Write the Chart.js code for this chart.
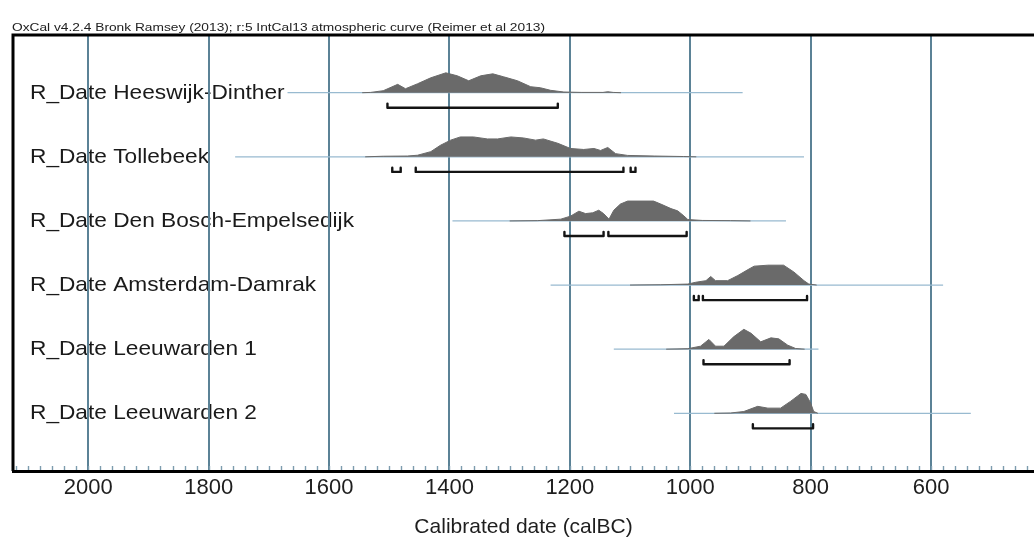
<!DOCTYPE html>
<html>
<head>
<meta charset="utf-8">
<script src="https://cdn.jsdelivr.net/npm/chart.js@4.4.1/dist/chart.umd.min.js"></script>
<style>
  html, body { margin: 0; padding: 0; background: #ffffff; }
  #wrap { width: 1034px; height: 541px; }
</style>
</head>
<body>
<div id="wrap"><canvas id="c" width="1034" height="541"></canvas></div>
<script>
// ---- data -------------------------------------------------------------
const captionText = 'OxCal v4.2.4 Bronk Ramsey (2013); r:5 IntCal13 atmospheric curve (Reimer et al 2013)';
const axisTitle = 'Calibrated date (calBC)';
const tickYears = [2000, 1800, 1600, 1400, 1200, 1000, 800, 600];

const rowNames = [
  'R_Date Heeswijk-Dinther',
  'R_Date Tollebeek',
  'R_Date Den Bosch-Empelsedijk',
  'R_Date Amsterdam-Damrak',
  'R_Date Leeuwarden 1',
  'R_Date Leeuwarden 2'
];

// extent of each distribution's base line (calBC)
const spanLines = [[1669, 913], [1756, 811], [1395, 841], [1232, 580], [1127, 787], [1027, 534]];

// calibrated probability (relative to each row's maximum)
const heeswijkYears = [1545, 1531, 1510, 1486, 1473, 1453, 1431, 1406, 1387, 1368, 1348, 1328, 1310, 1287, 1265, 1249, 1232, 1210, 1180, 1145, 1137, 1128, 1115];
const heeswijkProb  = [0, 0.015, 0.1, 0.42, 0.2, 0.45, 0.75, 1.0, 0.85, 0.6, 0.85, 0.95, 0.8, 0.6, 0.3, 0.25, 0.12, 0.035, 0.015, 0.015, 0.05, 0.015, 0];

const tollebeekYears = [1540, 1510, 1470, 1453, 1431, 1415, 1398, 1382, 1360, 1337, 1320, 1298, 1277, 1257, 1244, 1220, 1199, 1177, 1160, 1149, 1137, 1124, 1104, 1060, 1011, 990];
const tollebeekProb  = [0, 0.03, 0.04, 0.08, 0.26, 0.58, 0.84, 1.0, 1.0, 0.9, 0.9, 1.0, 0.95, 0.84, 0.9, 0.68, 0.42, 0.37, 0.42, 0.32, 0.47, 0.16, 0.07, 0.04, 0.015, 0];

const denBoschYears = [1300, 1254, 1215, 1199, 1185, 1174, 1162, 1152, 1144, 1135, 1127, 1116, 1104, 1061, 1049, 1032, 1021, 1012, 1004, 980, 933, 900];
const denBoschProb  = [0, 0.015, 0.09, 0.24, 0.49, 0.37, 0.41, 0.54, 0.37, 0.09, 0.54, 0.85, 1.0, 1.0, 0.85, 0.62, 0.51, 0.29, 0.07, 0.025, 0.015, 0];

const damrakYears = [1100, 1049, 1004, 991, 974, 966, 958, 938, 921, 904, 894, 871, 845, 828, 811, 803, 790];
const damrakProb  = [0, 0.015, 0.05, 0.14, 0.22, 0.43, 0.22, 0.22, 0.48, 0.78, 0.95, 1.0, 1.0, 0.66, 0.22, 0.05, 0];

const leeuwarden1Years = [1040, 1004, 983, 969, 958, 944, 928, 911, 899, 883, 866, 853, 838, 825, 810];
const leeuwarden1Prob  = [0, 0.025, 0.15, 0.49, 0.15, 0.15, 0.62, 1.0, 0.8, 0.37, 0.57, 0.52, 0.2, 0.035, 0];

const leeuwarden2Years = [960, 933, 911, 888, 871, 850, 833, 816, 808, 800, 795, 788];
const leeuwarden2Prob  = [0, 0.015, 0.09, 0.35, 0.26, 0.26, 0.61, 1.0, 0.95, 0.52, 0.09, 0];

// 95.4% highest posterior density ranges (calBC)
const heeswijkRanges    = [[1503, 1220]];
const tollebeekRanges   = [[1495, 1481], [1456, 1111], [1099, 1091]];
const denBoschRanges    = [[1209, 1144], [1136, 1006]];
const damrakRanges      = [[994, 986], [979, 806]];
const leeuwarden1Ranges = [[978, 835]];
const leeuwarden2Ranges = [[896, 796]];

// ---- assembly ---------------------------------------------------------
const probYears = [heeswijkYears, tollebeekYears, denBoschYears, damrakYears, leeuwarden1Years, leeuwarden2Years];
const probValues = [heeswijkProb, tollebeekProb, denBoschProb, damrakProb, leeuwarden1Prob, leeuwarden2Prob];
const rangeSets = [heeswijkRanges, tollebeekRanges, denBoschRanges, damrakRanges, leeuwarden1Ranges, leeuwarden2Ranges];

const PEAK = 0.31;       // height of a distribution peak, in row units
const BAR_DROP = 0.235;  // range bar distance below the base line
const HOOK = 0.065;      // height of the end hooks on range bars

const FONT = '"Liberation Sans", Arial, Helvetica, sans-serif';
const GRID = '#5b8296';

const datasets = [];
rowNames.forEach((name, i) => {
  const row = i + 1;
  datasets.push({
    label: name + ' base',
    data: spanLines[i].map(x => ({ x, y: row })),
    borderColor: '#98bad0',
    borderWidth: 1.2,
    pointRadius: 0,
    fill: false,
    order: 3
  });
  datasets.push({
    label: name,
    data: probYears[i].map((x, k) => ({ x, y: row - probValues[i][k] * PEAK })),
    borderColor: '#6a6a6a',
    backgroundColor: '#6a6a6a',
    borderWidth: 1,
    pointRadius: 0,
    fill: { value: row },
    order: 2
  });
  rangeSets[i].forEach(([from, to]) => {
    const yb = row + BAR_DROP;
    datasets.push({
      label: name + ' range',
      data: [
        { x: from, y: yb - HOOK }, { x: from, y: yb },
        { x: to, y: yb }, { x: to, y: yb - HOOK }
      ],
      borderColor: '#141414',
      borderWidth: 2.4,
      pointRadius: 0,
      fill: false,
      borderJoinStyle: 'round',
      borderCapStyle: 'round',
      order: 1
    });
  });
});

// row names, frame, minor ticks and the caption line
const decorations = {
  id: 'oxcalDecor',
  beforeDraw(chart) {
    const { ctx, scales: { y } } = chart;
    const left = chart.chartArea.left;
    ctx.save();
    ctx.fillStyle = '#1a1a1a';
    ctx.font = '21px ' + FONT;
    ctx.textBaseline = 'middle';
    rowNames.forEach((name, i) => {
      ctx.save();
      ctx.translate(left + 17, y.getPixelForValue(i + 1));
      ctx.scale(1.08, 1);
      ctx.fillText(name, 0, 0);
      ctx.restore();
    });
    ctx.restore();
  },
  afterDraw(chart) {
    const { ctx, chartArea: a, scales: { x } } = chart;
    ctx.save();
    // minor ticks every 20 years, pointing into the plot
    ctx.strokeStyle = '#7d9cae';
    ctx.lineWidth = 1.4;
    for (let yr = 2120; yr >= 440; yr -= 20) {
      const px = Math.round(x.getPixelForValue(yr)) + 0.5;
      ctx.beginPath();
      ctx.moveTo(px, a.bottom - 1);
      ctx.lineTo(px, a.bottom - 5);
      ctx.stroke();
    }
    // frame: top and left edges
    ctx.strokeStyle = '#000';
    ctx.lineWidth = 3;
    ctx.beginPath();
    ctx.moveTo(a.left, a.bottom);
    ctx.lineTo(a.left, a.top);
    ctx.lineTo(a.right, a.top);
    ctx.stroke();
    // caption above the frame
    ctx.fillStyle = '#222';
    ctx.font = '11px ' + FONT;
    ctx.textBaseline = 'alphabetic';
    const w = ctx.measureText(captionText).width;
    ctx.translate(12, a.top - 4);
    ctx.scale(533 / w, 1);
    ctx.fillText(captionText, 0, 0);
    ctx.restore();
  }
};

new Chart(document.getElementById('c'), {
  type: 'line',
  data: { datasets },
  options: {
    responsive: false,
    animation: false,
    events: [],
    layout: { padding: { left: 13, top: 35, right: 0, bottom: 0 } },
    elements: { line: { tension: 0 } },
    plugins: { legend: { display: false }, tooltip: { enabled: false } },
    scales: {
      x: {
        type: 'linear',
        reverse: true,
        min: 429,
        max: 2125,
        afterBuildTicks(scale) {
          scale.ticks = tickYears.map(v => ({ value: v }));
        },
        afterFit(scale) { scale.height = 70; },
        grid: { color: GRID, lineWidth: 2, drawTicks: false },
        border: { display: true, color: '#000', width: 3 },
        ticks: {
          padding: 4,
          color: '#1e1e1e',
          font: { family: FONT, size: 22 },
          maxRotation: 0,
          callback: v => String(v)
        },
        title: {
          display: true,
          text: axisTitle,
          color: '#1e1e1e',
          font: { family: FONT, size: 21 },
          padding: { top: 0, bottom: 1 }
        }
      },
      y: {
        type: 'linear',
        display: false,
        reverse: true,
        min: 0.1,
        max: 6.9
      }
    }
  },
  plugins: [decorations]
});
</script>
</body>
</html>
